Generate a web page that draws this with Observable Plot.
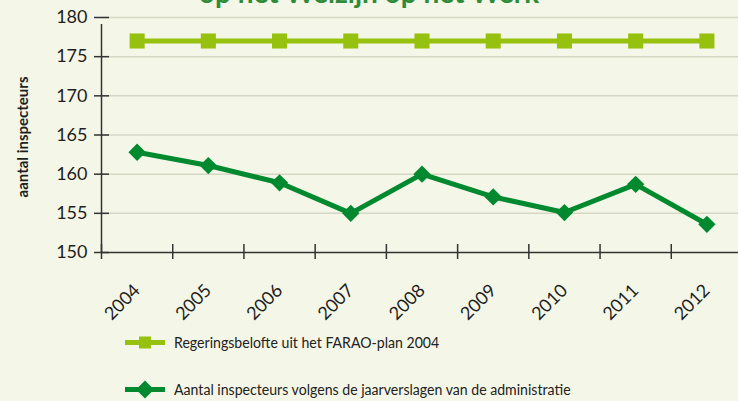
<!DOCTYPE html>
<html>
<head>
<meta charset="utf-8">
<script src="https://cdn.jsdelivr.net/npm/d3@7"></script>
<script src="https://cdn.jsdelivr.net/npm/@observablehq/plot@0.6"></script>
<style>
  html, body { margin: 0; padding: 0; background: #f4f7e7; }
  body { width: 738px; height: 401px; position: relative; overflow: hidden; font-family: Lato, sans-serif; }
  #title { position: absolute; top: -22px; left: 0; width: 738px; text-align: center; font-size: 28px; font-weight: bold; color: #2e8b3a; line-height: 28px; white-space: nowrap; }
  #legend { position: absolute; left: 0; top: 0; width: 738px; }
  .row { position: absolute; left: 125px; display: flex; align-items: center; font-size: 15.5px; color: #222; white-space: nowrap; }
  .row svg { margin-right: 9px; }
  .row span { display: inline-block; transform: scaleX(0.91); transform-origin: left center; }
</style>
</head>
<body>
<div id="chart"></div>
<div id="title">op het Welzijn op het Werk</div>
<div id="legend"></div>
<script>
const years = [2004, 2005, 2006, 2007, 2008, 2009, 2010, 2011, 2012];
const belofte = [177, 177, 177, 177, 177, 177, 177, 177, 177];
const inspecteurs = [162.8, 161.1, 158.9, 155.0, 160.0, 157.1, 155.1, 158.7, 153.6];
const yTicks = [150, 155, 160, 165, 170, 175, 180];
const seriesNames = ["Regeringsbelofte uit het FARAO-plan 2004", "Aantal inspecteurs volgens de jaarverslagen van de administratie"];
const colors = ["#97c10f", "#00892f"];

const dataA = years.map((y, i) => ({year: y, value: belofte[i]}));
const dataB = years.map((y, i) => ({year: y, value: inspecteurs[i]}));
const bounds = years.map(y => y - 0.5);

const W = 738, H = 320;
const plot = Plot.plot({
  width: W,
  height: H,
  marginLeft: 101,
  marginRight: 0,
  marginTop: 17,
  marginBottom: H - 252,
  style: {background: "transparent", fontFamily: "Lato, sans-serif", overflow: "visible"},
  x: {type: "linear", domain: [2003.5, 2012.5], range: [101, 742], axis: null},
  y: {type: "linear", domain: [150, 180], axis: null},
  marks: [
    Plot.ruleY(yTicks.filter(v => v > 150), {y: d => d, stroke: "#d5d7c4", strokeWidth: 1.5}),
    Plot.ruleY([150], {y: d => d, stroke: "#333", strokeWidth: 1.5}),
    Plot.ruleX([2003.5], {x: d => d, y1: 150, y2: 180, stroke: "#333", strokeWidth: 1.5, insetBottom: -7}),
    Plot.ruleX(bounds, {x: d => d, y1: 150, y2: 150, stroke: "#333", strokeWidth: 1.5, insetTop: -8, insetBottom: -7}),
    Plot.ruleY(yTicks, {y: d => d, x1: 2003.5, x2: 2003.5, stroke: "#333", strokeWidth: 1.5, insetLeft: -7, insetRight: -8}),
    Plot.text(yTicks, {x: 2003.5, y: d => d, text: d => String(d), textAnchor: "end", dx: -14, fontSize: 18, fill: "#1e1e1e"}),
    Plot.text(years, {x: d => d, y: 150, text: d => String(d), rotate: -45, textAnchor: "end", dx: 0, dy: 35, fontSize: 18, fill: "#1e1e1e"}),
    Plot.text(["aantal inspecteurs"], {frameAnchor: "left", text: d => d, rotate: -90, textAnchor: "middle", dx: -78, dy: 2, fontSize: 15, fontWeight: "bold", fill: "#1e1e1e"}),
    Plot.line(dataA, {x: "year", y: "value", stroke: colors[0], strokeWidth: 5}),
    Plot.dot(dataA, {x: "year", y: "value", symbol: "square", r: 8.5, fill: colors[0]}),
    Plot.line(dataB, {x: "year", y: "value", stroke: colors[1], strokeWidth: 5}),
    Plot.dot(dataB, {x: "year", y: "value", symbol: "diamond2", r: 7.8, fill: colors[1]})
  ]
});
document.getElementById("chart").appendChild(plot);

const legend = document.getElementById("legend");
const rowsY = [342, 389];
const swatch = (i) => {
  const mk = i === 0
    ? `<rect x="14" y="5.5" width="12" height="12" fill="${colors[0]}"/>`
    : `<path d="M20 2.5 L29 11.5 L20 20.5 L11 11.5 Z" fill="${colors[1]}"/>`;
  return `<svg width="40" height="23" viewBox="0 0 40 23"><line x1="0" x2="40" y1="11.5" y2="11.5" stroke="${colors[i]}" stroke-width="5"/>${mk}</svg>`;
};
seriesNames.forEach((name, i) => {
  const r = document.createElement("div");
  r.className = "row";
  r.style.top = (rowsY[i] - 11.5) + "px";
  r.innerHTML = swatch(i) + `<span>${name}</span>`;
  legend.appendChild(r);
});
</script>
</body>
</html>
